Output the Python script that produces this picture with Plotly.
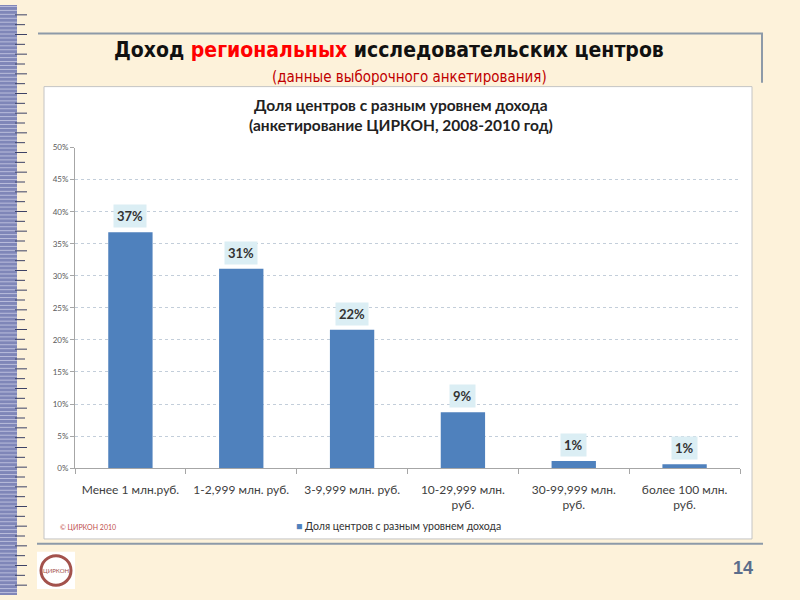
import plotly.graph_objects as go

categories = ["Менее 1 млн.руб.", "1-2,999 млн. руб.", "3-9,999 млн. руб.",
              "10-29,999 млн.<br>руб.", "30-99,999 млн.<br>руб.", "более 100 млн.<br>руб."]
shares = [0.368, 0.311, 0.216, 0.087, 0.011, 0.006]
series_name = "Доля центров с разным уровнем дохода"
ytick_vals = [0, 0.05, 0.10, 0.15, 0.20, 0.25, 0.30, 0.35, 0.40, 0.45, 0.50]

W, H = 800, 600
def px(x):
    return x / W
def py(y):
    return 1 - y / H

CHART_FONT = "Lato, Carlito, 'Noto Sans', sans-serif"
BAR = "#4f81bd"

fig = go.Figure()
fig.add_trace(go.Bar(
    x=categories, y=shares, name=series_name,
    marker=dict(color=BAR, line=dict(width=0)),
    showlegend=False,
))

# data labels with light-blue box
for c, v in zip(categories, shares):
    fig.add_annotation(
        x=c, y=v, xref="x", yref="y", text=f"<b>{v:.0%}</b>",
        showarrow=False, xanchor="center", yanchor="bottom", yshift=4,
        bgcolor="#dbeef4", borderpad=3,
        font=dict(family=CHART_FONT, size=13, color="#333333"),
    )

shapes = []
# white chart box
shapes.append(dict(type="rect", xref="paper", yref="paper", layer="below",
                   x0=px(44), x1=px(752), y0=py(543), y1=py(83),
                   fillcolor="white", line=dict(color="#c4c4c4", width=1)))
# top & bottom slide rules
rule = "#8d9aa8"
shapes.append(dict(type="line", xref="paper", yref="paper", x0=px(38), x1=px(763),
                   y0=py(29), y1=py(29), line=dict(color=rule, width=2)))
shapes.append(dict(type="line", xref="paper", yref="paper", x0=px(762), x1=px(762),
                   y0=py(29), y1=py(79), line=dict(color=rule, width=2)))
shapes.append(dict(type="line", xref="paper", yref="paper", x0=px(37), x1=px(763),
                   y0=py(548), y1=py(548), line=dict(color=rule, width=2)))
# left decorative strip
shapes.append(dict(type="rect", xref="paper", yref="paper", layer="below",
                   x0=0, x1=px(17), y0=0, y1=1,
                   fillcolor="#7f86b8", line=dict(width=0)))
for i in range(0, H, 4):
    shapes.append(dict(type="line", xref="paper", yref="paper", x0=0, x1=px(17),
                       y0=py(i + 1.5), y1=py(i + 1.5),
                       line=dict(color="rgba(235,235,250,0.55)", width=1)))
for k, i in enumerate(range(10, H, 10)):
    shapes.append(dict(type="line", xref="paper", yref="paper", x0=px(15),
                       x1=px(27 if k % 2 == 0 else 25),
                       y0=py(i), y1=py(i), line=dict(color="#3d4266", width=1)))
# logo
shapes.append(dict(type="rect", xref="paper", yref="paper", x0=px(37), x1=px(75),
                   y0=py(594), y1=py(556), fillcolor="white", line=dict(width=0)))
shapes.append(dict(type="circle", xref="paper", yref="paper", x0=px(41), x1=px(71),
                   y0=py(590), y1=py(560), line=dict(color="#a3524c", width=3)))

fig.update_layout(
    width=W, height=H,
    margin=dict(l=0, r=0, t=0, b=0),
    paper_bgcolor="#fdf2da",
    plot_bgcolor="rgba(0,0,0,0)",
    bargap=0.6,
    shapes=shapes,
    xaxis=dict(domain=[px(75), px(740)], showgrid=False,
               showline=True, linecolor="#a6a6a6", linewidth=1,
               ticks="outside", tickson="boundaries", ticklen=5, tickcolor="#a6a6a6",
               ticklabelstandoff=10,
               tickfont=dict(family=CHART_FONT, size=12, color="#404040")),
    yaxis=dict(domain=[py(471), py(145)], range=[0, 0.5], tickvals=ytick_vals,
               tickformat=".0%", showgrid=True, gridcolor="#c3ceda", griddash="dot",
               gridwidth=1, zeroline=False,
               showline=True, linecolor="#a6a6a6", linewidth=1,
               ticks="outside", ticklen=4, tickcolor="#a6a6a6",
               tickfont=dict(family=CHART_FONT, size=8, color="#595959")),
)

TITLE_FONT = "'Liberation Sans Narrow', 'Arial Narrow', 'DejaVu Sans Condensed', sans-serif"
def note(x, y, text, font, xanchor="center"):
    fig.add_annotation(xref="paper", yref="paper", x=px(x), y=py(y), showarrow=False,
                       xanchor=xanchor, yanchor="middle", text=text, font=font)

note(389, 46, "<b>Доход <span style='color:#ff0000'>региональных</span> исследовательских центров</b>",
     dict(family=TITLE_FONT, size=21, color="#111111"))
note(410, 73, "(данные выборочного анкетирования)",
     dict(family=TITLE_FONT, size=15, color="#c00000"))
note(401, 112, "<b>Доля центров с разным уровнем дохода<br>(анкетирование ЦИРКОН, 2008-2010 год)</b>",
     dict(family=CHART_FONT, size=15.5, color="#222222"))
note(58, 531, "© ЦИРКОН 2010", dict(family=CHART_FONT, size=7, color="#c0504d"), xanchor="left")
note(294, 530, f"<span style='color:{BAR}'>■</span> {series_name}",
     dict(family=CHART_FONT, size=10.5, color="#333333"), xanchor="left")
note(56, 575, "ЦИРКОН", dict(family=CHART_FONT, size=6, color="#a3524c"))
note(743, 573, "<b>14</b>", dict(family="'Liberation Sans', Arial, sans-serif", size=18, color="#5b6d8b"))

fig.write_html("out.html", config={"displayModeBar": False},
               post_script="document.body.style.margin='0px';")
